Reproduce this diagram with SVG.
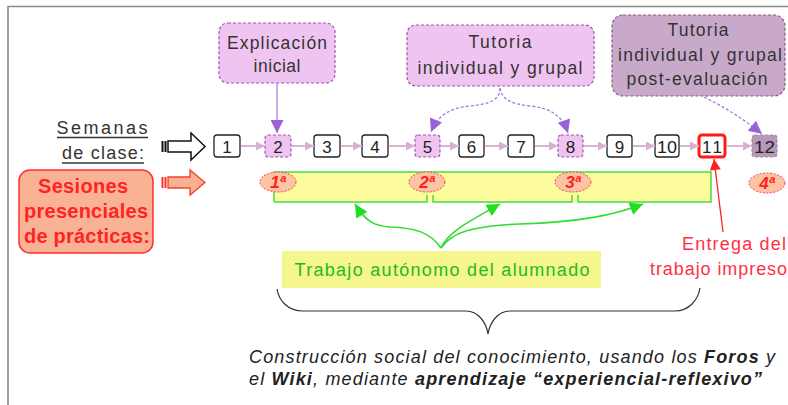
<svg xmlns="http://www.w3.org/2000/svg" width="788" height="405" viewBox="0 0 788 405">
<style>
text{font-family:"Liberation Sans",Arial,sans-serif}
.lbl{font-size:17.5px;fill:#333;text-anchor:middle}
.num{font-size:17px;fill:#222;text-anchor:middle}
.nb{fill:#fff;stroke:#222;stroke-width:1.3}
.vb{fill:#f0c4f0;stroke:#a050b8;stroke-width:1.2;stroke-dasharray:3,2}
.pk{stroke:#d8b4d4;stroke-width:2;fill:none}
.ell{fill:#fcc4a4;stroke:#f04040;stroke-width:1;stroke-dasharray:2,1.5}
.ord{font-size:17px;font-style:italic;font-weight:bold;fill:#ff2020;text-anchor:middle}
.ses{font-size:20px;font-weight:bold;fill:#ff2424;text-anchor:middle}
.grn{stroke:#30dd30;stroke-width:1.6;fill:none}
.dsh{stroke:#a878d8;stroke-width:1.3;fill:none;stroke-dasharray:3,2}
.bot{font-size:18px;font-style:italic;fill:#222}
</style>
<defs>
<marker id="mP" viewBox="0 0 10 10" refX="10" refY="5" markerWidth="16" markerHeight="13" markerUnits="userSpaceOnUse" orient="auto"><path d="M0,0 L10,5 L0,10 z" fill="#9a62d6"/></marker>
<marker id="mK" viewBox="0 0 10 10" refX="10" refY="5" markerWidth="10" markerHeight="9" markerUnits="userSpaceOnUse" orient="auto"><path d="M0,0 L10,5 L0,10 z" fill="#d8b0d0"/></marker>
<marker id="mG" viewBox="0 0 10 10" refX="10" refY="5" markerWidth="18" markerHeight="13" markerUnits="userSpaceOnUse" orient="auto"><path d="M0,0 L10,5 L0,10 z" fill="#22dd22"/></marker>
<marker id="mR" viewBox="0 0 10 10" refX="10" refY="5" markerWidth="16" markerHeight="11" markerUnits="userSpaceOnUse" orient="auto"><path d="M0,0 L10,5 L0,10 z" fill="#ff2020"/></marker>
</defs>

<g id="frame">
<path d="M8,405 V6.5 H788" fill="none" stroke="#8a8a8a" stroke-width="1.6"/>
</g>

<g id="explicacion">
<rect x="219" y="23" width="116" height="60" rx="9" class="vb"/>
<text x="277" y="49" class="lbl" textLength="100" lengthAdjust="spacing">Explicación</text>
<text x="277" y="72" class="lbl" textLength="47" lengthAdjust="spacing">inicial</text>
</g>

<g id="tutoria">
<rect x="407" y="25" width="187" height="61" rx="9" class="vb"/>
<text x="500" y="48" class="lbl" textLength="63" lengthAdjust="spacing">Tutoria</text>
<text x="500" y="74" class="lbl" textLength="165" lengthAdjust="spacing">individual y grupal</text>
</g>

<g id="tutoria-post">
<rect x="612" y="15" width="173" height="81" rx="11" fill="#c9a9c9" stroke="#8a5a8a" stroke-width="1.2" stroke-dasharray="3,2"/>
<text x="698" y="36" class="lbl" textLength="61" lengthAdjust="spacing">Tutoria</text>
<text x="700" y="61" class="lbl" textLength="164" lengthAdjust="spacing">individual y grupal</text>
<text x="697" y="85" class="lbl" textLength="141" lengthAdjust="spacing">post-evaluación</text>
</g>

<g id="semanas">
<text x="102" y="134" font-size="18" fill="#333" text-anchor="middle" textLength="91" lengthAdjust="spacing">Semanas</text>
<line x1="57" y1="137.5" x2="148" y2="137.5" stroke="#333" stroke-width="1.3"/>
<text x="103" y="159" font-size="18" fill="#333" text-anchor="middle" textLength="82" lengthAdjust="spacing">de clase:</text>
<line x1="62" y1="163" x2="144" y2="163" stroke="#333" stroke-width="1.3"/>
<line x1="162.5" y1="141" x2="162.5" y2="152" stroke="#111" stroke-width="2"/>
<line x1="165.5" y1="141" x2="165.5" y2="152" stroke="#111" stroke-width="2"/>
<path d="M168,141 H191 V133 L205,146.5 L191,160 V152 H168 Z" fill="#fff" stroke="#111" stroke-width="1.5"/>
</g>

<g id="sesiones">
<rect x="19" y="170" width="134" height="83" rx="11" fill="#f9b294" stroke="#ff3030" stroke-width="1.5"/>
<text x="83" y="193" class="ses" textLength="90" lengthAdjust="spacing">Sesiones</text>
<text x="86" y="218" class="ses" textLength="124" lengthAdjust="spacing">presenciales</text>
<text x="87" y="243" class="ses" textLength="126" lengthAdjust="spacing">de prácticas:</text>
<line x1="162.5" y1="177" x2="162.5" y2="188" stroke="#ff3030" stroke-width="2"/>
<line x1="165.5" y1="177" x2="165.5" y2="188" stroke="#ff3030" stroke-width="2"/>
<path d="M168,177 H190 V170 L205,182.5 L190,195 V188 H168 Z" fill="#f8b090" stroke="#f04030" stroke-width="1.3"/>
</g>

<g id="semana-1"><rect x="214" y="135" width="26" height="22" rx="3" class="nb"/><text x="227" y="152.5" class="num">1</text></g>
<g id="semana-2"><rect x="265" y="135" width="26" height="22" rx="3" class="vb"/><text x="278" y="152.5" class="num">2</text></g>
<g id="semana-3"><rect x="314" y="135" width="26" height="22" rx="3" class="nb"/><text x="327" y="152.5" class="num">3</text></g>
<g id="semana-4"><rect x="362" y="135" width="26" height="22" rx="3" class="nb"/><text x="375" y="152.5" class="num">4</text></g>
<g id="semana-5"><rect x="415" y="135" width="25" height="22" rx="3" class="vb"/><text x="427.5" y="152.5" class="num">5</text></g>
<g id="semana-6"><rect x="459" y="135" width="25" height="22" rx="3" class="nb"/><text x="471.5" y="152.5" class="num">6</text></g>
<g id="semana-7"><rect x="508" y="135" width="26" height="22" rx="3" class="nb"/><text x="521" y="152.5" class="num">7</text></g>
<g id="semana-8"><rect x="558" y="135" width="25" height="22" rx="3" class="vb"/><text x="570.5" y="152.5" class="num">8</text></g>
<g id="semana-9"><rect x="607" y="135" width="25" height="22" rx="3" class="nb"/><text x="619.5" y="152.5" class="num">9</text></g>
<g id="semana-10"><rect x="655" y="135" width="24" height="22" rx="3" class="nb"/><text x="667" y="152.5" class="num" textLength="20" lengthAdjust="spacingAndGlyphs">10</text></g>
<g id="semana-11"><rect x="699" y="135" width="26" height="22" rx="3" fill="#fff" stroke="#ff1a1a" stroke-width="3"/><text x="712" y="152.5" class="num" textLength="20" lengthAdjust="spacing">11</text></g>
<g id="semana-12"><rect x="752" y="135" width="25" height="22" rx="3" fill="#b898b8" stroke="#a888a8" stroke-width="1.2" stroke-dasharray="3,2"/><text x="764.5" y="152.5" class="num" textLength="21" lengthAdjust="spacingAndGlyphs">12</text></g>

<g id="barra-practicas">
<rect x="274" y="172" width="437" height="30" fill="#fcfc9c"/>
<path d="M274,202 V172 H711 V202 H578 V195 M572,195 V202 H433 V195 M427,195 V202 H274" fill="none" stroke="#44dd44" stroke-width="1.5"/>
</g>

<g id="sesion-1"><ellipse cx="278" cy="182" rx="18" ry="10" class="ell"/><text x="278" y="188" class="ord">1ª</text></g>
<g id="sesion-2"><ellipse cx="427" cy="182" rx="18" ry="10" class="ell"/><text x="427" y="188" class="ord">2ª</text></g>
<g id="sesion-3"><ellipse cx="573" cy="182" rx="18" ry="10" class="ell"/><text x="573" y="188" class="ord">3ª</text></g>
<g id="sesion-4"><ellipse cx="767" cy="183" rx="18" ry="10" class="ell"/><text x="767" y="189" class="ord">4ª</text></g>

<g id="trabajo">
<rect x="282" y="251" width="319" height="37" fill="#f6f68e"/>
<text x="442" y="276" font-size="18" fill="#22bb22" text-anchor="middle" textLength="295" lengthAdjust="spacing">Trabajo autónomo del alumnado</text>
</g>

<g id="entrega">
<text x="682" y="250" font-size="18" fill="#ff3045" textLength="104" lengthAdjust="spacing">Entrega del</text>
<text x="650" y="275" font-size="18" fill="#ff3045" textLength="137" lengthAdjust="spacing">trabajo impreso</text>
</g>

<g id="construccion">
<path d="M277,289 C279,301 288,311 303,311 H466 C478,311 486,322 488,334 C490,322 498,311 510,311 H675 C689,311 698,300 700,288" fill="none" stroke="#333" stroke-width="1.2"/>
<text x="249" y="363" class="bot" textLength="526" lengthAdjust="spacing">Construcción social del conocimiento, usando los <tspan font-weight="bold">Foros</tspan> y</text>
<text x="249" y="385" class="bot" textLength="513" lengthAdjust="spacing">el <tspan font-weight="bold">Wiki</tspan>, mediante <tspan font-weight="bold">aprendizaje “experiencial-reflexivo”</tspan></text>
</g>

<g id="connectors">
<line x1="277" y1="83" x2="277" y2="133" stroke="#b488dc" stroke-width="1.4" marker-end="url(#mP)"/>
<path d="M500,88 C500,100 490,104 470,106 C450,108 438,115 431,132" class="dsh" marker-end="url(#mP)"/>
<path d="M500,88 C502,100 512,104 530,106 C550,108 562,115 568,133" class="dsh" marker-end="url(#mP)"/>
<path d="M704,97 Q735,112 762,134" class="dsh" marker-end="url(#mP)"/>
<line x1="241" y1="146" x2="265" y2="146" class="pk" marker-end="url(#mK)"/>
<line x1="292" y1="146" x2="314" y2="146" class="pk" marker-end="url(#mK)"/>
<line x1="341" y1="146" x2="362" y2="146" class="pk" marker-end="url(#mK)"/>
<line x1="389" y1="146" x2="415" y2="146" class="pk" marker-end="url(#mK)"/>
<line x1="441" y1="146" x2="459" y2="146" class="pk" marker-end="url(#mK)"/>
<line x1="485" y1="146" x2="508" y2="146" class="pk" marker-end="url(#mK)"/>
<line x1="535" y1="146" x2="558" y2="146" class="pk" marker-end="url(#mK)"/>
<line x1="584" y1="146" x2="607" y2="146" class="pk" marker-end="url(#mK)"/>
<line x1="633" y1="146" x2="655" y2="146" class="pk" marker-end="url(#mK)"/>
<line x1="680" y1="146" x2="699" y2="146" class="pk" marker-end="url(#mK)"/>
<line x1="727" y1="146" x2="752" y2="146" class="pk" marker-end="url(#mK)"/>
<path d="M441,248 C430,232 415,228 390,227 C375,226 366,222 355,204" class="grn" marker-end="url(#mG)"/>
<path d="M441,248 C448,232 468,222 500,204" class="grn" marker-end="url(#mG)"/>
<path d="M441,248 C452,232 472,226 520,224 C580,222 615,215 643,204" class="grn" marker-end="url(#mG)"/>
<line x1="723" y1="232" x2="714" y2="159" stroke="#ff2020" stroke-width="1.3" marker-end="url(#mR)"/>
</g>
</svg>
